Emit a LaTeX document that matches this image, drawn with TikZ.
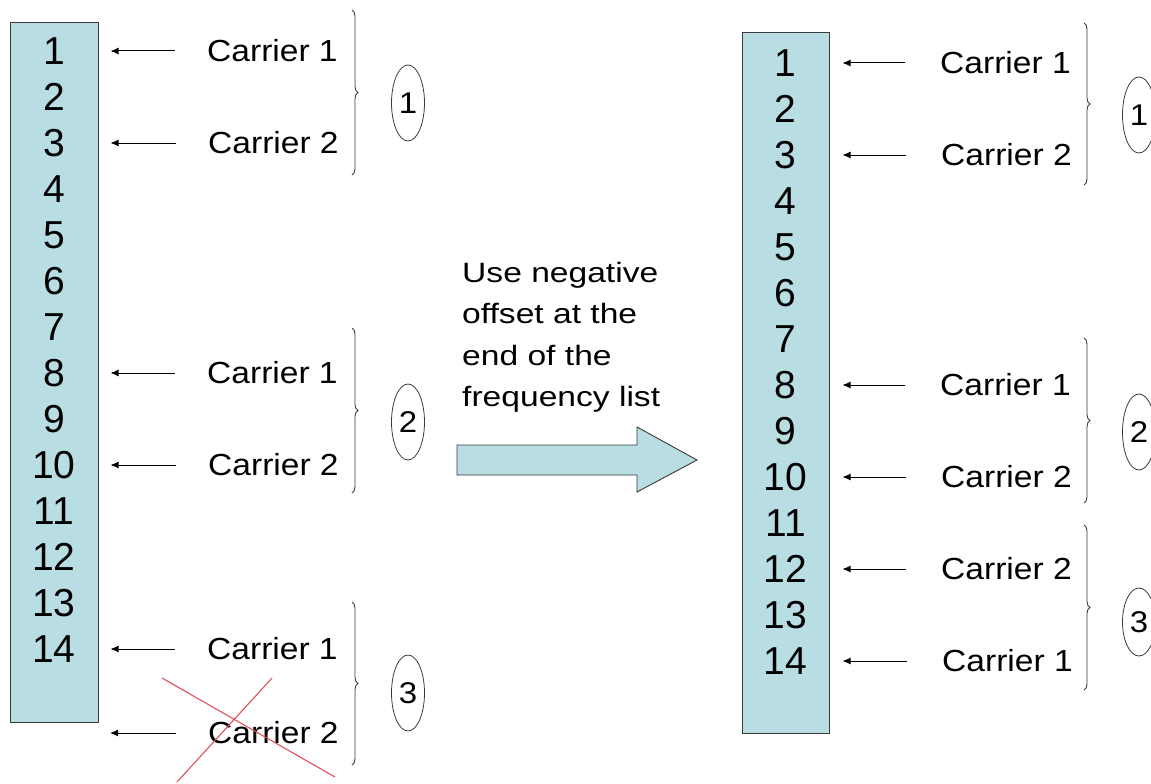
\documentclass[tikz,border=0pt]{standalone}
\usepackage{fontspec}
\setmainfont{Liberation Sans}
\newfontfamily\carrierfont{Liberation Sans}[FakeStretch=1.1]
\newfontfamily\notefont{Liberation Sans}[FakeStretch=1.2]
\usetikzlibrary{arrows.meta,positioning,calc,shapes.geometric,decorations.pathreplacing}
\definecolor{Slot}{HTML}{B8DDE3}
\definecolor{Edge}{HTML}{3A3A3A}
\definecolor{Cross}{HTML}{E0505A}

\begin{document}
\begin{tikzpicture}[x=1pt,y=-1pt,
  list/.style={draw=Edge,fill=Slot,line width=1pt,inner sep=0pt},
  slot/.style={font=\fontsize{39}{39}\selectfont,inner sep=0pt},
  carrier/.style={font=\carrierfont\fontsize{30.5}{30.5}\selectfont,inner sep=0pt,anchor=west},
  feed/.style={-{Latex[length=8pt,width=7pt]},line width=1pt},
  group/.style={draw=Edge,line width=0.9pt,decorate,decoration={brace,amplitude=6pt}},
  tag/.style={ellipse,draw=Edge,line width=0.8pt,minimum width=33pt,minimum height=76pt,inner sep=0pt,
    font=\carrierfont\fontsize{30}{30}\selectfont}]
\useasboundingbox (0,0) rectangle (1151,784);
% frequency lists, before and after
\node[list,minimum width=88pt,minimum height=699pt] (lbox) at (54,372.5) {};
\node[list,minimum width=87pt,minimum height=700pt] (rbox) at (785.5,383) {};
\foreach \i in {1,...,14}{
  \node[slot] (L\i) at (54,{51+(\i-1)*46}) {\i};
  \node[slot] (R\i) at (785.5,{63+(\i-1)*46}) {\i};
}
% carriers on the left list
\node[carrier] (la1) at (207,51) {Carrier 1};
\node[carrier] (la2) at (208,143) {Carrier 2};
\node[carrier] (lb1) at (207,373) {Carrier 1};
\node[carrier] (lb2) at (208,465) {Carrier 2};
\node[carrier] (lc1) at (207,649) {Carrier 1};
\node[carrier] (lc2) at (208,733) {Carrier 2};
\coordinate (miss) at (110,733);
\foreach \c/\r in {la1/1,la2/3,lb1/8,lb2/10,lc1/14}
  \draw[feed] ([xshift=-32pt]\c.west) -- ($(L\r -| lbox.east)+(12,0)$);
\draw[feed] ([xshift=-32pt]lc2.west) -- (miss);
\draw[Cross,line width=1.1pt] (162,678) -- (335,777) (272,678) -- (177,782);
% carriers on the right list
\node[carrier] (ra1) at (940,63) {Carrier 1};
\node[carrier] (ra2) at (941,155) {Carrier 2};
\node[carrier] (rb1) at (940,385) {Carrier 1};
\node[carrier] (rb2) at (941,477) {Carrier 2};
\node[carrier] (rc2) at (941,569) {Carrier 2};
\node[carrier] (rc1) at (942,661) {Carrier 1};
\foreach \c/\r in {ra1/1,ra2/3,rb1/8,rb2/10,rc2/12,rc1/14}
  \draw[feed] ([xshift=-35pt]\c.west) -- ($(R\r -| rbox.east)+(13,0)$);
% groups
\draw[group] (352,10) -- (352,175);
\draw[group] (352,328) -- (352,493);
\draw[group] (352,602) -- (352,765);
\draw[group] (1084,23) -- (1084,185);
\draw[group] (1084,338) -- (1084,503);
\draw[group] (1084,525) -- (1084,690);
\node[tag] (gl1) at (408,103) {1};
\node[tag] (gl2) at (408,422) {2};
\node[tag] (gl3) at (408,693) {3};
\node[tag] (gr1) at (1139,115) {1};
\node[tag] (gr2) at (1139,432) {2};
\node[tag,minimum height=68pt] (gr3) at (1139,622) {3};
% shift arrow
\node[font=\notefont\fontsize{28}{41.5}\selectfont,align=left,inner sep=0pt,anchor=north west] (note) at (462,262)
  {Use negative\\offset at the\\end of the\\frequency list};
\draw[draw=Edge,fill=Slot,line width=0.9pt] (457,445) -- (637,445) -- (637,427) -- (697,460)
  -- (637,492) -- (637,475) -- (457,475) -- cycle;
\end{tikzpicture}
\end{document}
